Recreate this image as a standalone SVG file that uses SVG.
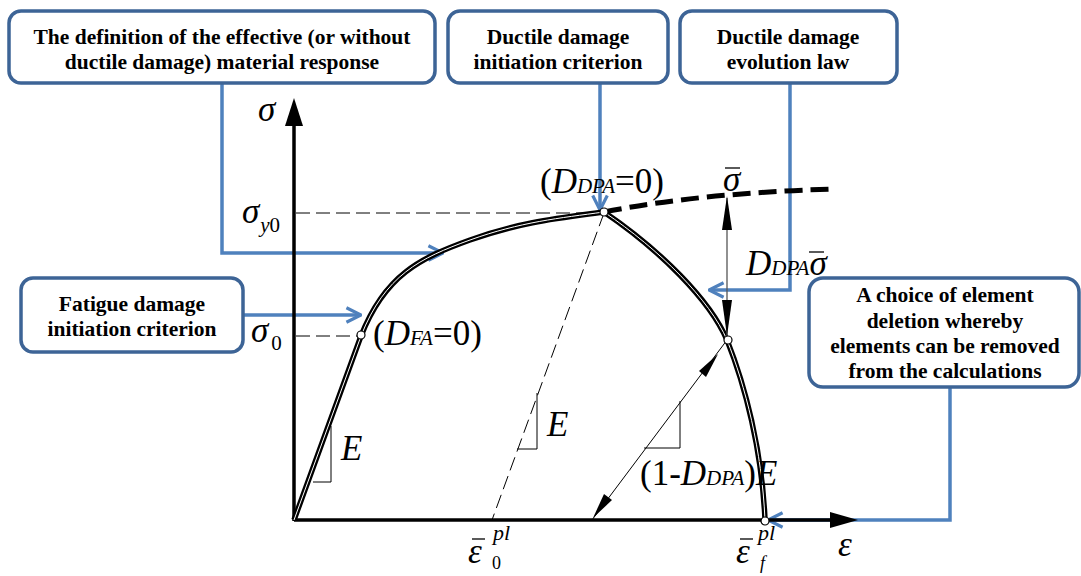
<svg xmlns="http://www.w3.org/2000/svg" width="1081" height="576" viewBox="0 0 1081 576">
<defs>
<style>
.box{fill:#fff;stroke:#3d6496;stroke-width:3.5}
.bt{font-family:'Liberation Serif','Times New Roman',serif;font-weight:bold;font-size:21.5px;text-anchor:middle;fill:#000}
.con{fill:none;stroke:#4f81bd;stroke-width:3.5}
.m{font-family:'Liberation Serif','Times New Roman',serif;font-size:35px;fill:#000}
.s{font-size:21px}
.i{font-style:italic}
.n{font-style:normal}
.thin{fill:none;stroke:#000;stroke-width:1}
.dash{fill:none;stroke:#000;stroke-width:1;stroke-dasharray:14,6}
</style>
<marker id="oa" viewBox="0 0 12 12" refX="11" refY="6" markerWidth="5" markerHeight="5" orient="auto" markerUnits="strokeWidth">
<path d="M1,1 L11,6 L1,11" fill="none" stroke="#4f81bd" stroke-width="2.2"/>
</marker>
</defs>
<rect width="1081" height="576" fill="#fff"/>

<g id="connectors">
<path class="con" d="M222,83 V253 H443" marker-end="url(#oa)"/>
<path class="con" d="M600,83 V210" marker-end="url(#oa)"/>
<path class="con" d="M790,83 V290 H709" marker-end="url(#oa)"/>
<path class="con" d="M243,315 H361" marker-end="url(#oa)"/>
<path class="con" d="M950,387 V520 H768" marker-end="url(#oa)"/>
</g>

<g id="chart">
<line x1="294" y1="521" x2="294" y2="120" stroke="#000" stroke-width="3.5"/>
<polygon points="294,98 285,126 303,126" fill="#000"/>
<line x1="294" y1="520" x2="835" y2="520" stroke="#000" stroke-width="3.5"/>
<polygon points="858,520 830,512 830,528" fill="#000"/>
<line class="dash" x1="296" y1="213" x2="604" y2="213"/>
<line class="dash" x1="296" y1="336" x2="358" y2="336"/>
<line class="dash" x1="604" y1="213" x2="492" y2="520"/>
<path d="M294,520 L361,336 C385,275 420,258 470,240 S560,218 604,212" fill="none" stroke="#000" stroke-width="5.5"/>
<path d="M294,520 L361,336 C385,275 420,258 470,240 S560,218 604,212" fill="none" stroke="#fff" stroke-width="1"/>
<path d="M604,212 Q700,193 835,189" fill="none" stroke="#000" stroke-width="5" stroke-dasharray="18,8"/>
<path d="M604,212 C660,250 710,300 727,340 C745,385 762,450 765,520" fill="none" stroke="#000" stroke-width="5.5"/>
<path d="M604,212 C660,250 710,300 727,340 C745,385 762,450 765,520" fill="none" stroke="#fff" stroke-width="1"/>
<path class="thin" d="M331,426 V482 H313"/>
<path class="thin" d="M537,393 V449 H517"/>
<path class="thin" d="M680,401 V448 H644"/>
<line class="thin" x1="727" y1="340" x2="592" y2="520"/>
<polygon points="718,354 699,371 706,377" fill="#000"/>
<polygon points="593,518 604,494 612,500" fill="#000"/>
<line x1="727" y1="198" x2="727" y2="338" stroke="#555" stroke-width="1.3"/>
<polygon points="727,196 722,230 732,230" fill="#000"/>
<polygon points="727,336 722,300 732,300" fill="#000"/>
<circle cx="361" cy="335" r="4" fill="#fff" stroke="#000" stroke-width="1.2"/>
<circle cx="604" cy="212" r="4" fill="#fff" stroke="#000" stroke-width="1.2"/>
<circle cx="728" cy="340" r="4" fill="#fff" stroke="#000" stroke-width="1.2"/>
<circle cx="765" cy="521" r="4" fill="#fff" stroke="#000" stroke-width="1.2"/>

<text class="m i" x="258" y="121">σ</text>
<text class="m i" x="242" y="223">σ<tspan class="s" dx="1" dy="9">y</tspan><tspan class="s n">0</tspan></text>
<text class="m i" x="251" y="342">σ<tspan class="s n" dx="3" dy="8">0</tspan></text>
<text class="m" x="373" y="345">(<tspan class="i">D</tspan><tspan class="i s">FA</tspan>=0)</text>
<text class="m" x="540" y="193">(<tspan class="i">D</tspan><tspan class="i s">DPA</tspan>=0)</text>
<text class="m i" x="723" y="191">σ</text>
<line x1="725" y1="168" x2="740" y2="168" stroke="#000" stroke-width="1.3"/>
<text class="m" x="746" y="275"><tspan class="i">D</tspan><tspan class="i s">DPA</tspan><tspan class="i">σ</tspan></text>
<line x1="809" y1="252" x2="824" y2="252" stroke="#000" stroke-width="1.3"/>
<text class="m i" x="341" y="460">E</text>
<text class="m i" x="547" y="436">E</text>
<text class="m" x="640" y="485">(1-<tspan class="i">D</tspan><tspan class="i s">DPA</tspan>)<tspan class="i">E</tspan></text>
<text class="m i" x="468" y="563" font-size="40">ε<tspan x="493" y="540" font-size="22">pl</tspan><tspan class="n" x="492" y="569" font-size="18">0</tspan></text>
<line x1="472" y1="539" x2="485" y2="539" stroke="#000" stroke-width="1.3"/>
<text class="m i" x="736" y="563" font-size="40">ε<tspan x="758" y="540" font-size="22">pl</tspan><tspan x="760" y="569" font-size="18">f</tspan></text>
<line x1="740" y1="539" x2="753" y2="539" stroke="#000" stroke-width="1.3"/>
<text class="m i" x="838" y="556" font-size="38">ε</text>
</g>

<g id="box-effective">
<rect class="box" x="9" y="11" width="426" height="72" rx="12"/>
<text class="bt" x="222" y="44">The definition of the effective (or without</text>
<text class="bt" x="222" y="69">ductile damage) material response</text>
</g>
<g id="box-initiation">
<rect class="box" x="448" y="11" width="220" height="72" rx="12"/>
<text class="bt" x="558" y="44">Ductile damage</text>
<text class="bt" x="558" y="69">initiation criterion</text>
</g>
<g id="box-evolution">
<rect class="box" x="680" y="11" width="217" height="72" rx="12"/>
<text class="bt" x="788" y="44">Ductile damage</text>
<text class="bt" x="788" y="69">evolution law</text>
</g>
<g id="box-fatigue">
<rect class="box" x="21" y="278" width="222" height="74" rx="12"/>
<text class="bt" x="132" y="311">Fatigue damage</text>
<text class="bt" x="132" y="336">initiation criterion</text>
</g>
<g id="box-deletion">
<rect class="box" x="809" y="278" width="270" height="109" rx="14"/>
<text class="bt" x="945" y="302">A choice of element</text>
<text class="bt" x="945" y="328">deletion whereby</text>
<text class="bt" x="945" y="353">elements can be removed</text>
<text class="bt" x="945" y="378">from the calculations</text>
</g>
</svg>
